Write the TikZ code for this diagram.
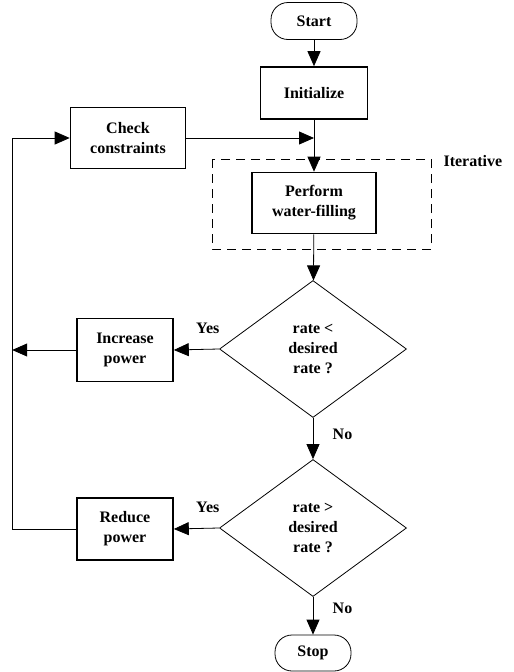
\documentclass[tikz,border=0pt]{standalone}
\usepackage{fontspec}
\setmainfont{Liberation Serif}
\usetikzlibrary{shapes.geometric, arrows.meta}

\begin{document}
\begin{tikzpicture}[
    x=1pt, y=-1pt,
    every node/.style={font=\fontsize{16}{20}\selectfont\bfseries},
    box/.style={draw, line width=1.6pt, inner sep=0pt, align=center},
    term/.style={draw, line width=0.8pt, rounded corners=17pt, inner sep=0pt},
    decision/.style={draw, diamond, line width=0.8pt, minimum width=187pt, minimum height=137pt, inner sep=0pt, align=center},
    arrow/.style={-{Triangle[length=15pt, width=13pt]}, line width=0.8pt}
]
    \useasboundingbox (0,0) rectangle (514,672);

    % Terminals
    \node[term, minimum width=86pt, minimum height=37pt] (start) at (314,21) {Start};
    \node[term, minimum width=76pt, minimum height=36pt] (stop) at (313,653) {Stop};

    % Process boxes
    \node[box, minimum width=107pt, minimum height=52pt] (init) at (314,93) {Initialize};
    \node[box, minimum width=115pt, minimum height=61pt] (check) at (128,138) {Check\\constraints};
    \node[box, minimum width=124pt, minimum height=61pt] (perform) at (314,203) {Perform\\water-filling};
    \node[box, minimum width=96pt, minimum height=63pt] (inc) at (125,350) {Increase\\power};
    \node[box, minimum width=96pt, minimum height=62pt] (red) at (125,529) {Reduce\\power};

    % Decisions
    \node[decision] (dec1) at (313,349) {rate <\\desired\\rate ?};
    \node[decision] (dec2) at (313,528) {rate >\\desired\\rate ?};

    % Iterative region
    \draw[dashed, dash pattern=on 9pt off 6pt, line width=0.8pt] (212,159) rectangle (431,249);
    \node[anchor=west] (iterlabel) at (440,161) {Iterative};

    % Main flow
    \coordinate (join) at (init.south |- check.east);
    \draw[arrow] (start) -- (init);
    \draw[arrow] (init) -- (perform);
    \draw[arrow] (check.east) -- (join);
    \draw[arrow] (perform) -- (dec1);
    \draw[arrow] (dec1) -- node[pos=0.4, right=16pt] (no1) {No} (dec2);
    \draw[arrow] (dec2) -- node[pos=0.3, right=16pt] (no2) {No} (stop);

    % Yes branches
    \draw[arrow] (dec1.west) -- node[pos=0.25, above=12pt] (yes1) {Yes} (inc.east);
    \draw[arrow] (dec2.west) -- node[pos=0.25, above=12pt] (yes2) {Yes} (red.east);

    % Feedback loop
    \draw[arrow] (inc.west) -- ++(-64,0);
    \draw[arrow] (red.west) -- ++(-64,0) |- (check.west);
\end{tikzpicture}
\end{document}
